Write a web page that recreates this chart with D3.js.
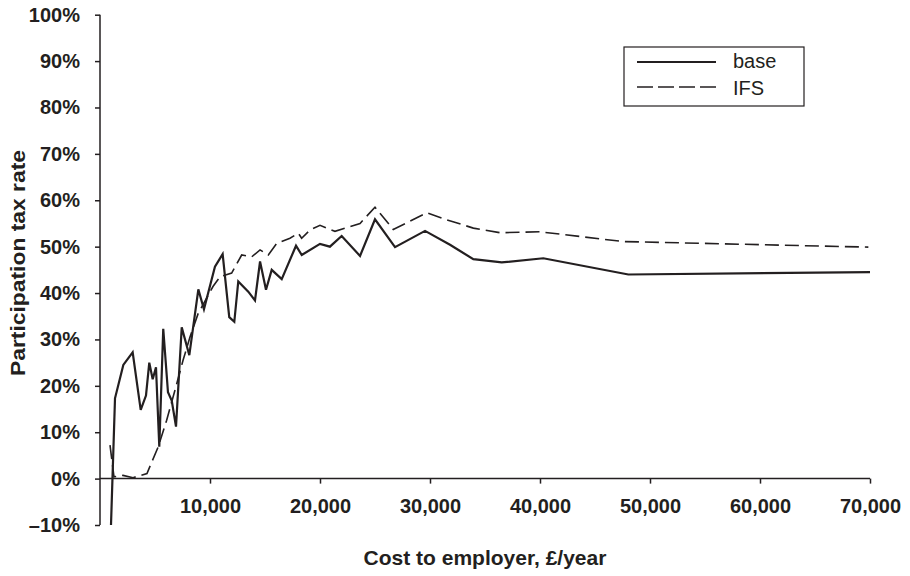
<!DOCTYPE html>
<html>
<head>
<meta charset="utf-8">
<script src="https://cdn.jsdelivr.net/npm/d3@7"></script>
<style>
body{margin:0;background:#fff;}
svg{display:block;}
text{font-family:"Liberation Sans",Arial,Helvetica,sans-serif;fill:#231f20;}
</style>
</head>
<body>
<svg></svg>
<script>
var width=910, height=576;

// cost to employer (£/year) and participation tax rate (%)
var baseCost=[1000,1364,2120,2970,3700,4180,4480,4790,5090,5390,5750,6180,6520,6910,7430,8120,8940,9450,10450,11150,11750,12210,12570,13480,14090,14550,15090,15610,16520,17820,18340,20000,20900,21970,23640,25000,26820,29550,31820,33940,36520,40300,48030,70000];
var baseRate=[-10,17.3,24.5,27.2,14.8,17.9,25,21.4,24,6.9,32.3,18.6,16.8,11.2,32.6,26.6,40.8,36.5,45.7,48.4,34.8,33.8,42.5,40.3,38.4,46.8,40.7,45,43,50.2,48.2,50.6,50,52.3,48,55.9,49.9,53.4,50.4,47.3,46.6,47.5,44,44.5];

var ifsCost=[910,1270,2090,3000,4270,5300,6060,6820,7550,8180,8910,10270,10910,11970,12880,13790,14550,15300,16060,17270,18030,18330,19090,20000,21360,23640,25000,26660,29700,31520,33940,36360,40000,47570,69850];
var ifsRate=[7.2,0.4,0.7,0.2,1.1,6.9,12.6,19.1,25.5,30.5,35.5,41.4,43.5,44.3,48.2,47.8,49.3,48.2,50.7,51.8,52.9,51.8,53.6,54.6,53.3,55,58.5,53.7,57.3,55.8,54,53,53.2,51.1,49.9];

var xTicks=[10000,20000,30000,40000,50000,60000,70000];
var yTicks=[-10,0,10,20,30,40,50,60,70,80,90,100];

var svg=d3.select("svg").attr("width",width).attr("height",height);

var x=d3.scaleLinear().domain([0,70000]).range([100,870]);
var y=d3.scaleLinear().domain([-10,100]).range([525,14.7]);

// y axis
var yAxis=d3.axisLeft(y).tickValues(yTicks).tickSize(5).tickPadding(15)
    .tickFormat(function(d){return (d<0?"\u2013"+(-d):d)+"%";});
var gy=svg.append("g").attr("transform","translate(100,0)").call(yAxis);
gy.select(".domain").attr("d","M0,"+y(100)+"V"+y(-10)).attr("stroke","#231f20").attr("stroke-width",1.5);
gy.selectAll(".tick line").attr("stroke","#231f20").attr("stroke-width",1.5);
gy.selectAll(".tick text").style("font-size","20px").style("font-weight","bold").attr("fill","#231f20");

// x axis at 0%
var xAxis=d3.axisBottom(x).tickValues(xTicks).tickSize(5).tickPadding(15)
    .tickFormat(d3.format(","));
var gx=svg.append("g").attr("transform","translate(0,"+y(0)+")").call(xAxis);
gx.select(".domain").attr("d","M100,0H870").attr("stroke","#231f20").attr("stroke-width",1.5);
gx.selectAll(".tick line").attr("stroke","#231f20").attr("stroke-width",1.5);
gx.selectAll(".tick text").style("font-size","20px").style("font-weight","bold").attr("fill","#231f20");

// axis titles
svg.append("text")
    .attr("transform","translate(25,263) rotate(-90)")
    .attr("text-anchor","middle")
    .attr("textLength",226).attr("lengthAdjust","spacingAndGlyphs")
    .style("font-size","21px").style("font-weight","bold")
    .text("Participation tax rate");
svg.append("text")
    .attr("x",485).attr("y",565)
    .attr("text-anchor","middle")
    .style("font-size","21px").style("font-weight","bold")
    .text("Cost to employer, \u00a3/year");

var line=d3.line()
    .x(function(d){return x(d[0]);})
    .y(function(d){return y(d[1]);});

var ifsData=ifsCost.map(function(c,i){return [c,ifsRate[i]];});
var baseData=baseCost.map(function(c,i){return [c,baseRate[i]];});

svg.append("path").datum(ifsData)
    .attr("d",line).attr("fill","none")
    .attr("stroke","#231f20").attr("stroke-width",1.6)
    .attr("stroke-dasharray","14,6");
svg.append("path").datum(baseData)
    .attr("d",line).attr("fill","none")
    .attr("stroke","#231f20").attr("stroke-width",2.2)
    .attr("stroke-linejoin","miter");

// legend
var lg=svg.append("g");
lg.append("rect").attr("x",624).attr("y",47).attr("width",180).attr("height",59)
    .attr("fill","#fff").attr("stroke","#231f20").attr("stroke-width",1.2);
lg.append("line").attr("x1",637).attr("x2",716).attr("y1",62).attr("y2",62)
    .attr("stroke","#231f20").attr("stroke-width",2.2);
lg.append("line").attr("x1",637).attr("x2",716).attr("y1",87).attr("y2",87)
    .attr("stroke","#231f20").attr("stroke-width",1.6).attr("stroke-dasharray","16,5");
lg.append("text").attr("x",733).attr("y",68).style("font-size","20px").text("base");
lg.append("text").attr("x",733).attr("y",95).style("font-size","20px").text("IFS");
</script>
</body>
</html>
